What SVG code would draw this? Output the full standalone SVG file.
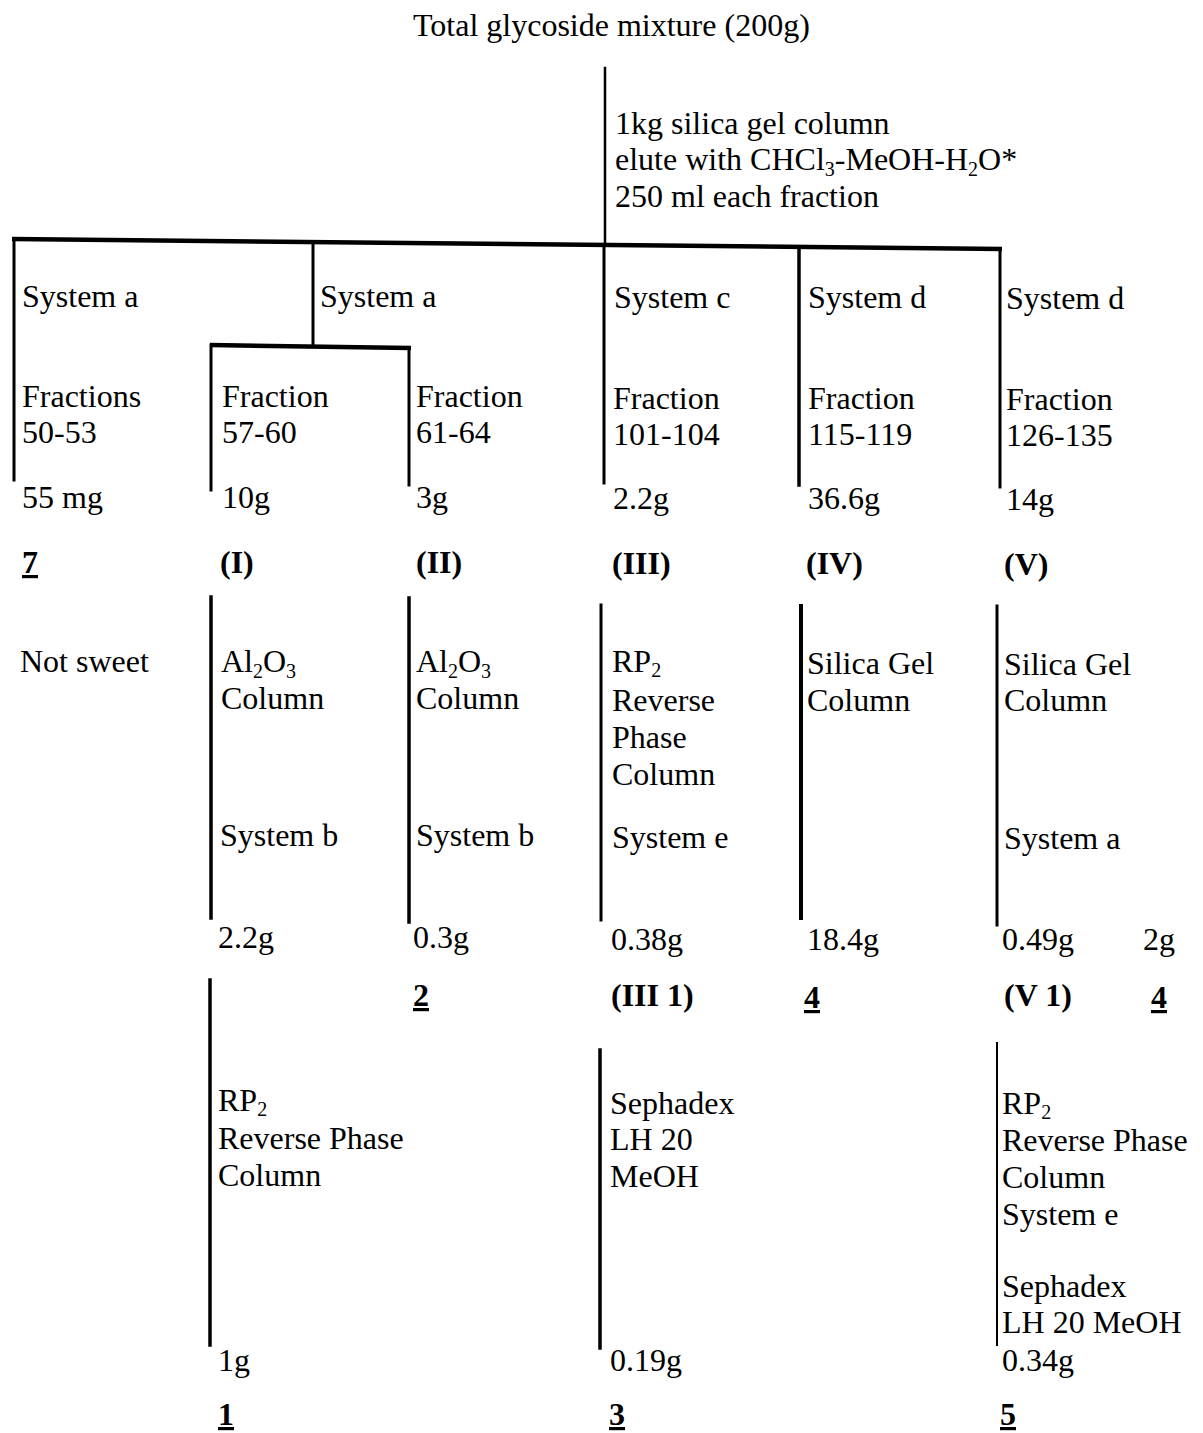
<svg xmlns="http://www.w3.org/2000/svg" width="1203" height="1433" viewBox="0 0 1203 1433">
<style>
text{font-family:"Liberation Serif","Times New Roman",serif;font-size:32px;fill:#000}
.b{font-weight:bold}
.u{text-decoration:underline}
.sub{font-size:20px}
.ln{stroke:#000;stroke-width:3;fill:none;stroke-linecap:square}
.bar{stroke:#000;stroke-width:4.5;fill:none}
</style>
<rect width="1203" height="1433" fill="#fff"/>
<g id="connectors">
<line class="ln" x1="605" y1="68" x2="605" y2="244" style="stroke-width:2.5"/>
<line class="bar" x1="12" y1="239" x2="1002" y2="249"/>
<line class="ln" x1="14" y1="240" x2="14" y2="480"/>
<line class="ln" x1="313" y1="242" x2="313" y2="345"/>
<line class="bar" x1="210" y1="345" x2="411" y2="348"/>
<line class="ln" x1="211" y1="345" x2="211" y2="490"/>
<line class="ln" x1="409" y1="348" x2="409" y2="485"/>
<line class="ln" x1="604" y1="245" x2="604" y2="483"/>
<line class="ln" x1="799" y1="248" x2="799" y2="485" style="stroke-width:3.5"/>
<line class="ln" x1="1000" y1="249" x2="1000" y2="487"/>
<line class="ln" x1="211" y1="597" x2="211" y2="918" style="stroke-width:3.5"/>
<line class="ln" x1="409" y1="598" x2="409" y2="922" style="stroke-width:3.5"/>
<line class="ln" x1="601" y1="605" x2="601" y2="920"/>
<line class="ln" x1="801" y1="606" x2="801" y2="918" style="stroke-width:4"/>
<line class="ln" x1="997" y1="606" x2="997" y2="925"/>
<line class="ln" x1="210" y1="980" x2="210" y2="1345" style="stroke-width:3.5"/>
<line class="ln" x1="600" y1="1050" x2="600" y2="1348" style="stroke-width:3.5"/>
<line class="ln" x1="997" y1="1043" x2="997" y2="1345" style="stroke-width:2"/>
</g>
<g id="title"><text x="413" y="36">Total glycoside mixture (200g)</text></g>
<g id="silica-column">
<text x="615" y="134">1kg silica gel column</text>
<text x="615" y="170">elute with CHCl<tspan class="sub" dy="6">3</tspan><tspan dy="-6">-MeOH-H</tspan><tspan class="sub" dy="6">2</tspan><tspan dy="-6">O*</tspan></text>
<text x="615" y="207">250 ml each fraction</text>
</g>
<g id="branch-7">
<text x="22" y="307">System a</text>
<text x="22" y="407">Fractions</text>
<text x="22" y="443">50-53</text>
<text x="22" y="508">55 mg</text>
<text x="22" y="573" class="b u">7</text>
<text x="20" y="672">Not sweet</text>
</g>
<g id="branch-a"><text x="320" y="307">System a</text></g>
<g id="branch-I">
<text x="222" y="407">Fraction</text>
<text x="222" y="443">57-60</text>
<text x="222" y="508">10g</text>
<text x="220" y="573" class="b">(I)</text>
<text x="221" y="672">Al<tspan class="sub" dy="6">2</tspan><tspan dy="-6">O</tspan><tspan class="sub" dy="6">3</tspan></text>
<text x="221" y="709">Column</text>
<text x="220" y="846">System b</text>
<text x="218" y="948">2.2g</text>
</g>
<g id="branch-I-rp">
<text x="218" y="1111">RP<tspan class="sub" dy="5">2</tspan></text>
<text x="218" y="1149">Reverse Phase</text>
<text x="218" y="1186">Column</text>
<text x="218" y="1371">1g</text>
<text x="218" y="1425" class="b u">1</text>
</g>
<g id="branch-II">
<text x="416" y="407">Fraction</text>
<text x="416" y="443">61-64</text>
<text x="416" y="508">3g</text>
<text x="416" y="573" class="b">(II)</text>
<text x="416" y="672">Al<tspan class="sub" dy="6">2</tspan><tspan dy="-6">O</tspan><tspan class="sub" dy="6">3</tspan></text>
<text x="416" y="709">Column</text>
<text x="416" y="846">System b</text>
<text x="413" y="948">0.3g</text>
<text x="413" y="1006" class="b u">2</text>
</g>
<g id="branch-III">
<text x="614" y="308">System c</text>
<text x="613" y="409">Fraction</text>
<text x="613" y="445">101-104</text>
<text x="613" y="509">2.2g</text>
<text x="612" y="574" class="b">(III)</text>
<text x="612" y="672">RP<tspan class="sub" dy="5">2</tspan></text>
<text x="612" y="711">Reverse</text>
<text x="612" y="748">Phase</text>
<text x="612" y="785">Column</text>
<text x="612" y="848">System e</text>
<text x="611" y="950">0.38g</text>
<text x="611" y="1006" class="b">(III 1)</text>
</g>
<g id="branch-III-seph">
<text x="610" y="1114">Sephadex</text>
<text x="610" y="1150">LH 20</text>
<text x="610" y="1187">MeOH</text>
<text x="610" y="1371">0.19g</text>
<text x="609" y="1425" class="b u">3</text>
</g>
<g id="branch-IV">
<text x="808" y="308">System d</text>
<text x="808" y="409">Fraction</text>
<text x="808" y="445">115-119</text>
<text x="808" y="509">36.6g</text>
<text x="806" y="574" class="b">(IV)</text>
<text x="807" y="674">Silica Gel</text>
<text x="807" y="711">Column</text>
<text x="807" y="950">18.4g</text>
<text x="804" y="1008" class="b u">4</text>
</g>
<g id="branch-V">
<text x="1006" y="309">System d</text>
<text x="1006" y="410">Fraction</text>
<text x="1006" y="446">126-135</text>
<text x="1006" y="510">14g</text>
<text x="1004" y="575" class="b">(V)</text>
<text x="1004" y="675">Silica Gel</text>
<text x="1004" y="711">Column</text>
<text x="1004" y="849">System a</text>
<text x="1002" y="950">0.49g</text>
<text x="1143" y="950">2g</text>
<text x="1004" y="1006" class="b">(V 1)</text>
<text x="1151" y="1008" class="b u">4</text>
</g>
<g id="branch-V-rp">
<text x="1002" y="1114">RP<tspan class="sub" dy="5">2</tspan></text>
<text x="1002" y="1151">Reverse Phase</text>
<text x="1002" y="1188">Column</text>
<text x="1002" y="1225">System e</text>
<text x="1002" y="1297">Sephadex</text>
<text x="1002" y="1333">LH 20 MeOH</text>
<text x="1002" y="1371">0.34g</text>
<text x="1000" y="1425" class="b u">5</text>
</g>
</svg>
